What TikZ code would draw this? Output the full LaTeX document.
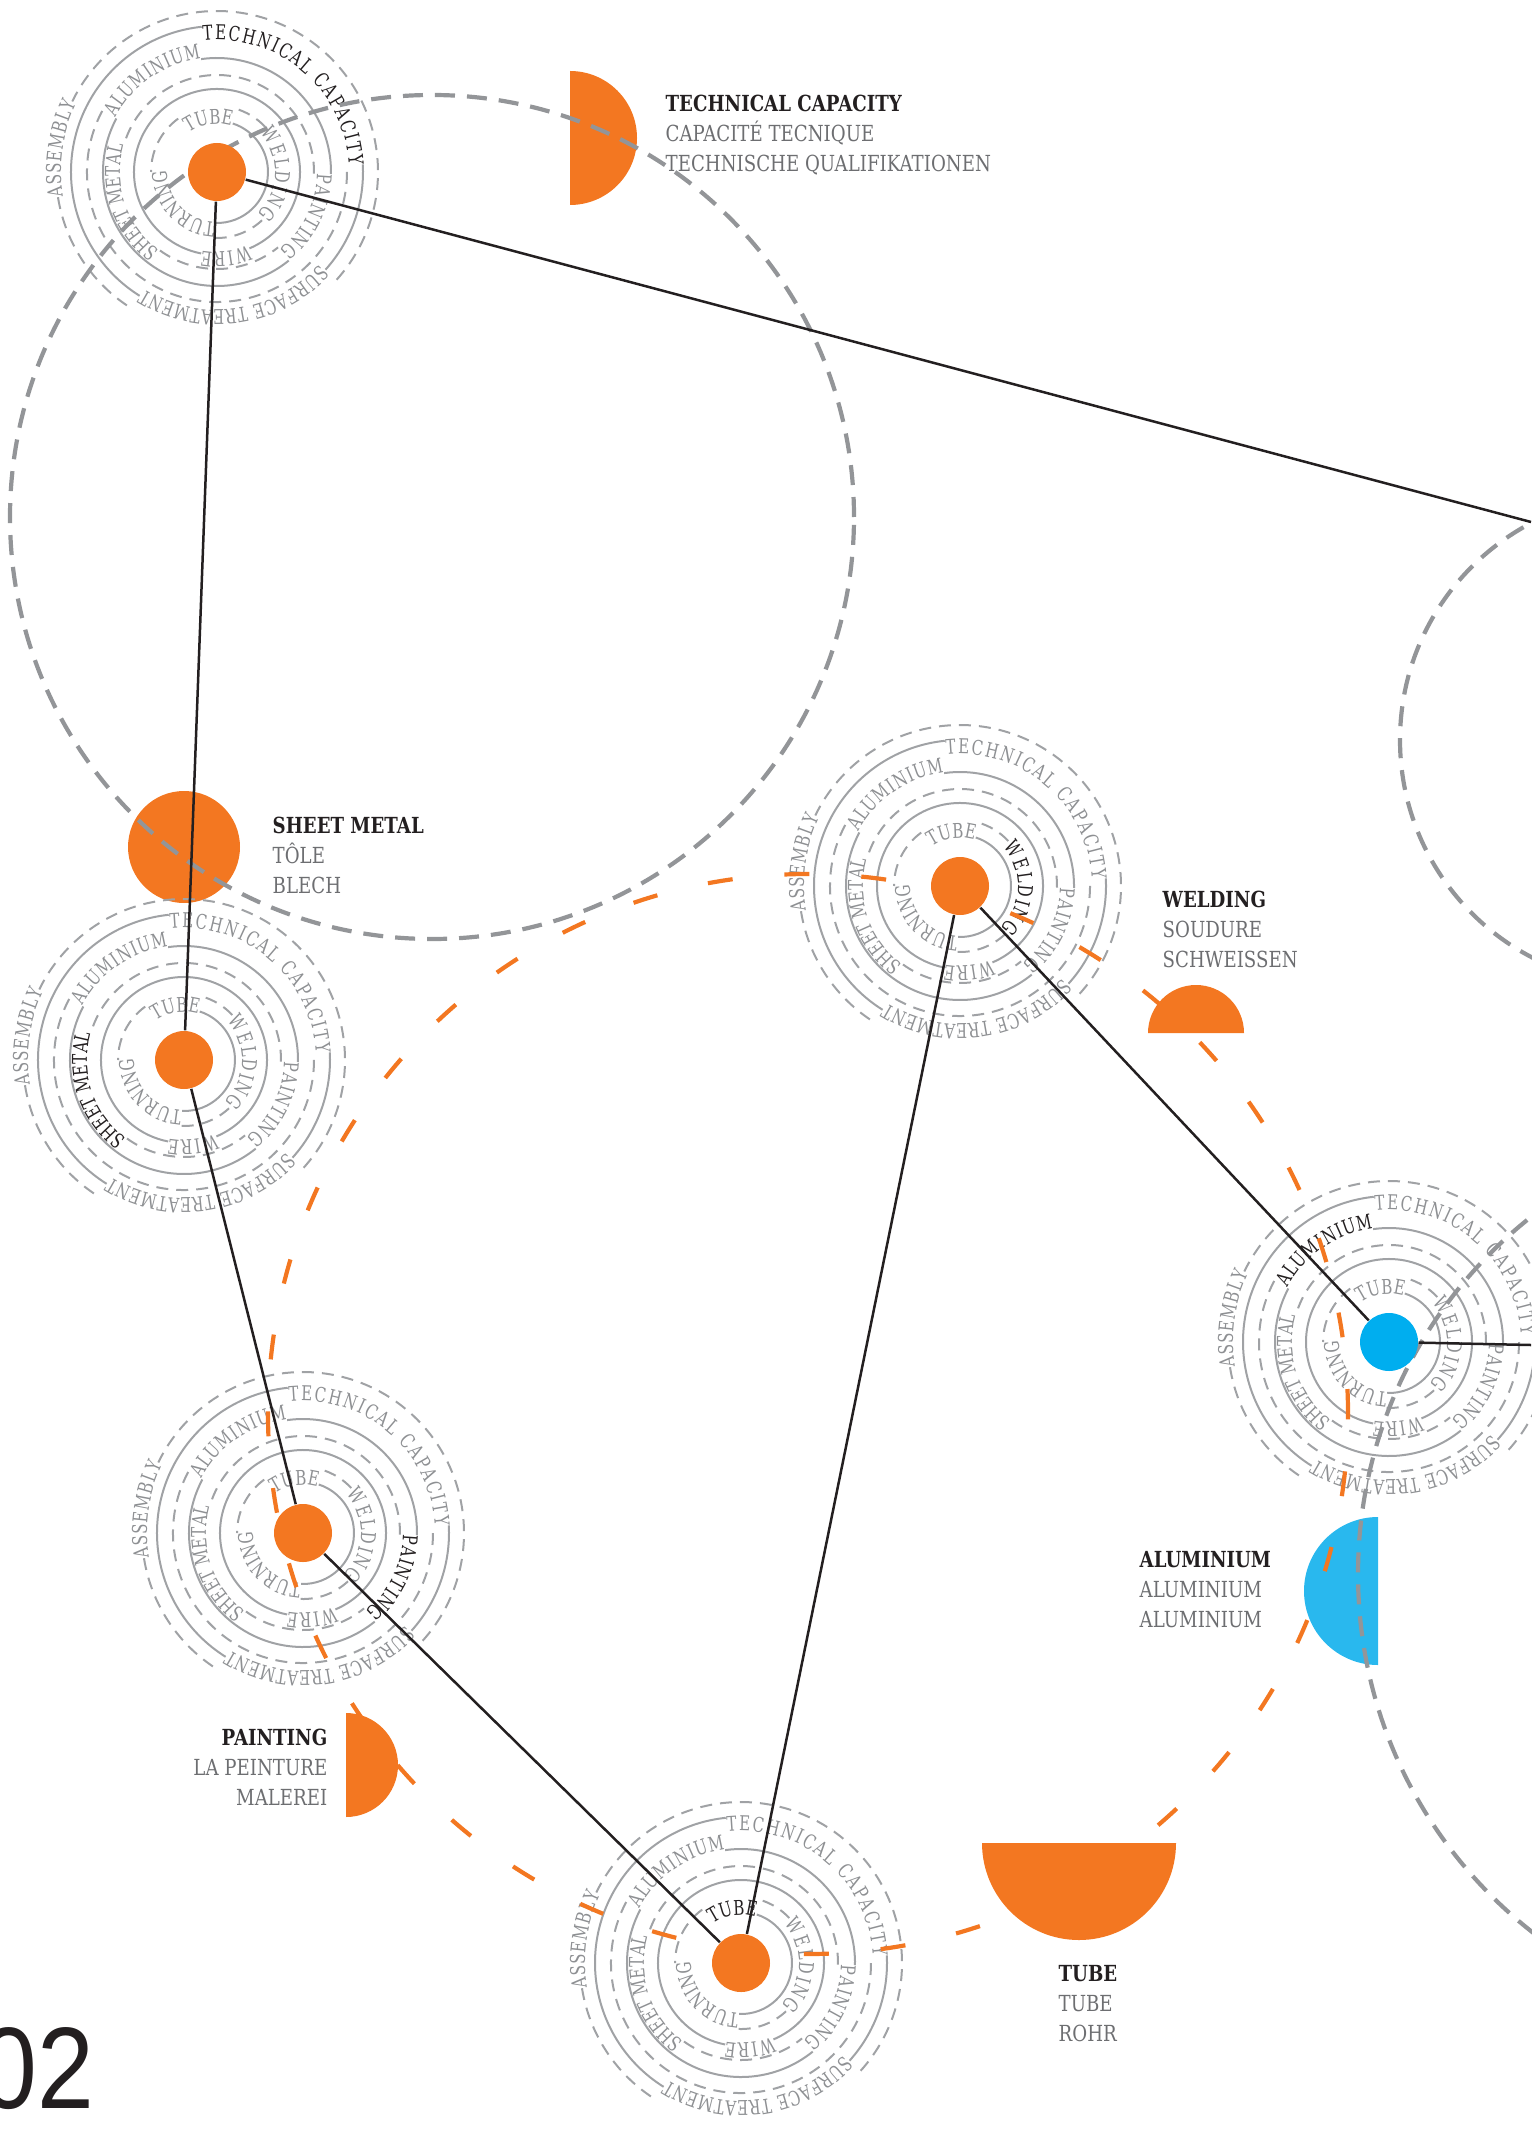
\documentclass[tikz,border=0pt]{standalone}
\usepackage{fontspec}
\usepackage{xcolor}
\usepackage{tikz}
\usetikzlibrary{decorations.text}

\newfontfamily\slabfont{DejaVu Serif}[FakeStretch=0.82]
\newfontfamily\ringslab{DejaVu Serif}[FakeStretch=0.74]
\newfontfamily\numfont{Liberation Sans}[FakeStretch=0.88]

\definecolor{capaorange}{HTML}{F37721}
\definecolor{alublue}{HTML}{00AEEF}
\definecolor{aluhalf}{HTML}{29B8EE}
\definecolor{ringgrey}{HTML}{A0A2A5}
\definecolor{ringtext}{HTML}{8E9093}
\definecolor{orbitgrey}{HTML}{939598}
\definecolor{subgrey}{HTML}{6D6E71}
\definecolor{inkblack}{HTML}{231F20}

\newcommand{\ringfont}{\ringslab\fontsize{5.8}{6.5}\selectfont}

% one label on a clockwise arc: centre, radius, from, to, key, text
\newcommand{\ringlabel}[6]{%
  \def\thiskey{#5}%
  \ifx\thiskey\hilite\def\labelcol{inkblack}\else\def\labelcol{ringtext}\fi
  \path[decorate, decoration={text along path, text align=fit to path,
      text={|\ringfont\color{\labelcol}|#6}}]
    ([shift={(#3:#2)}]#1) arc[start angle=#3, end angle=#4, radius=#2];
}

% the rings round one capacity: centre, highlighted key
\newcommand{\ringnode}[2]{%
  \def\hilite{#2}%
  \draw[ringline] ([shift={(-92:51)}]#1) arc[start angle=-92, end angle=72, radius=51];
  \draw[ringdash] ([shift={(43:66)}]#1) arc[start angle=43, end angle=74, radius=66];
  \draw[ringdash] ([shift={(126:66)}]#1) arc[start angle=126, end angle=180, radius=66];
  \draw[ringdash] ([shift={(-92:66)}]#1) arc[start angle=-92, end angle=-47, radius=66];
  \draw[ringline] ([shift={(-67:83)}]#1) arc[start angle=-67, end angle=259, radius=83];
  \draw[ringdash] ([shift={(-1:97)}]#1) arc[start angle=-1, end angle=164, radius=97];
  \draw[ringdash] ([shift={(234:97)}]#1) arc[start angle=234, end angle=309, radius=97];
  \draw[ringline] ([shift={(-1:114)}]#1) arc[start angle=-1, end angle=98, radius=114];
  \draw[ringline] ([shift={(152:114)}]#1) arc[start angle=152, end angle=309, radius=114];
  \draw[ringdash] ([shift={(152:130)}]#1) arc[start angle=152, end angle=363, radius=130];
  \draw[ringline] ([shift={(96:146)}]#1) arc[start angle=96, end angle=238, radius=146];
  \draw[ringline] ([shift={(318:146)}]#1) arc[start angle=318, end angle=363, radius=146];
  \draw[ringdash] ([shift={(189:161)}]#1) arc[start angle=189, end angle=238, radius=161];
  \draw[ringdash] ([shift={(-42:161)}]#1) arc[start angle=-42, end angle=154, radius=161];
  \ringlabel{#1}{48}{126}{74}{tube}{TUBE}
  \ringlabel{#1}{50}{268}{180}{turning}{TURNING}
  \ringlabel{#1}{58}{42}{-46}{welding}{WELDING}
  \ringlabel{#1}{80}{-67}{-101}{wire}{WIRE}
  \ringlabel{#1}{97}{234}{164}{sheet}{SHEET METAL}
  \ringlabel{#1}{100}{-1}{-51}{painting}{PAINTING}
  \ringlabel{#1}{115}{152}{98}{alu}{ALUMINIUM}
  \ringlabel{#1}{132}{96}{3}{tech}{TECHNICAL CAPACITY}
  \ringlabel{#1}{138}{-42}{-122}{surface}{SURFACE TREATMENT}
  \ringlabel{#1}{156}{189}{154}{assembly}{ASSEMBLY}
}

% legend text: name, x, y, side, three lines
\newcommand{\legendlines}[7]{%
  \node[legendtitle, anchor=base #4] (#1title) at (#2,#3) {#5};
  \node[legendsub, anchor=base #4] (#1fr) at (#2,#3-30) {#6};
  \node[legendsub, anchor=base #4] (#1de) at (#2,#3-60) {#7};
}

\begin{document}
\begin{tikzpicture}[x=0.1mm, y=0.1mm,
    ringline/.style={draw=ringgrey, line width=0.2mm},
    ringdash/.style={ringline, dash pattern=on 1.2mm off 0.8mm},
    orbit/.style={draw=orbitgrey, line width=0.42mm, dash pattern=on 2mm off 1.2mm},
    route/.style={draw=capaorange, line width=0.42mm, dash pattern=on 2.5mm off 5.2mm},
    link/.style={draw=inkblack, line width=0.25mm},
    dot/.style={circle, inner sep=0pt, minimum size=5.8mm},
    legendtitle/.style={font=\slabfont\bfseries\fontsize{6.3}{7}\selectfont, text=inkblack, inner sep=0pt},
    legendsub/.style={font=\slabfont\fontsize{6.3}{7}\selectfont, text=subgrey, inner sep=0pt}]
  \useasboundingbox (0,0) rectangle (1531,-2132);

  \coordinate (tcpos) at (217,-172);
  \coordinate (smpos) at (184,-1060);
  \coordinate (papos) at (303,-1533);
  \coordinate (tupos) at (741,-1963);
  \coordinate (wepos) at (960,-886);
  \coordinate (alpos) at (1389,-1342);

  \fill[capaorange] (570,-71) arc[start angle=90, end angle=-90, radius=67] -- cycle;
  \fill[capaorange] (184,-847) circle[radius=56];
  \fill[capaorange] (1148,-1033) arc[start angle=180, end angle=0, radius=48] -- cycle;
  \fill[aluhalf] (1378,-1517) arc[start angle=90, end angle=270, radius=74] -- cycle;
  \fill[capaorange] (346,-1713) arc[start angle=90, end angle=-90, radius=52] -- cycle;
  \fill[capaorange] (982,-1843) arc[start angle=180, end angle=360, radius=97] -- cycle;

  \ringnode{tcpos}{tech}
  \ringnode{smpos}{sheet}
  \ringnode{papos}{painting}
  \ringnode{tupos}{tube}
  \ringnode{wepos}{welding}
  \ringnode{alpos}{alu}

  \draw[orbit] (432,-517) circle[radius=422];
  \draw[orbit] (1645,-740) circle[radius=245];
  \draw[orbit] (1813,-1574) circle[radius=455];
  \draw[route] (808,-1414) circle[radius=540];

  \node[dot, fill=capaorange] (tc) at (tcpos) {};
  \node[dot, fill=capaorange] (sm) at (smpos) {};
  \node[dot, fill=capaorange] (pa) at (papos) {};
  \node[dot, fill=capaorange] (tu) at (tupos) {};
  \node[dot, fill=capaorange] (we) at (wepos) {};
  \node[dot, fill=alublue] (al) at (alpos) {};
  \coordinate (tcout) at (1531,-522);
  \coordinate (alout) at (1531,-1345);

  \draw[link] (tc) -- (sm);
  \draw[link] (tc) -- (tcout);
  \draw[link] (sm) -- (pa);
  \draw[link] (pa) -- (tu);
  \draw[link] (tu) -- (we);
  \draw[link] (we) -- (al);
  \draw[link] (al) -- (alout);

  \legendlines{tc}{665}{-112}{west}{TECHNICAL CAPACITY}{CAPACITÉ TECNIQUE}{TECHNISCHE QUALIFIKATIONEN}
  \legendlines{sm}{272}{-833}{west}{SHEET METAL}{TÔLE}{BLECH}
  \legendlines{we}{1162}{-907}{west}{WELDING}{SOUDURE}{SCHWEISSEN}
  \legendlines{al}{1139}{-1567}{west}{ALUMINIUM}{ALUMINIUM}{ALUMINIUM}
  \legendlines{pa}{328}{-1745}{east}{PAINTING}{LA PEINTURE}{MALEREI}
  \legendlines{tu}{1058}{-1981}{west}{TUBE}{TUBE}{ROHR}

  \node[anchor=base east, inner sep=0pt, text=inkblack, font=\numfont\fontsize{33}{33}\selectfont] (pagenum) at (95,-2108) {02};
\end{tikzpicture}
\end{document}
